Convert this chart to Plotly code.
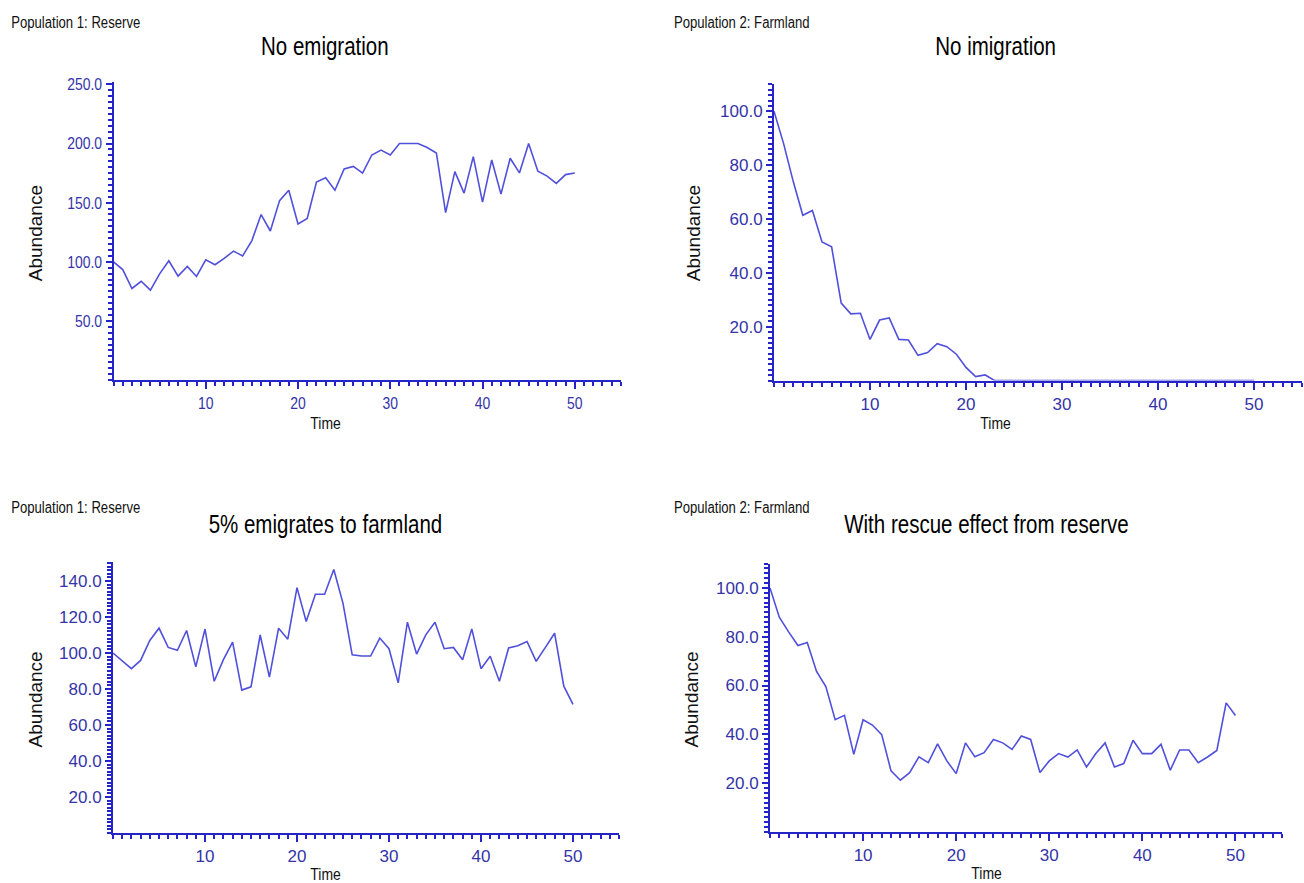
import plotly.graph_objects as go

# ---- data ----
time = list(range(51))

reserve_no_emigration = [100, 93.4, 77.4, 83.5, 76, 89.8, 100.8, 87.9, 96.1, 87.6,
                         101.7, 97.5, 102.8, 109, 105, 117.9, 139.9, 126, 151.7, 160.5,
                         132, 136.6, 167.4, 171, 160.5, 178.4, 180.6, 175, 190.3, 194.4,
                         190.3, 200, 200, 200, 196.6, 192, 141.5, 176.2, 158, 188.9,
                         150.4, 186.1, 157.2, 187.5, 175.1, 200, 176.5, 172.4, 166.3, 173.7,
                         175.1]

farmland_no_immigration = [100, 88, 74, 61.4, 63.2, 51.5, 49.7, 28.8, 24.8, 25,
                           15.3, 22.5, 23.3, 15.3, 15.1, 9.4, 10.4, 13.7, 12.6, 9.8,
                           4.9, 1.5, 2.1, 0, 0, 0, 0, 0, 0, 0,
                           0, 0, 0, 0, 0, 0, 0, 0, 0, 0,
                           0, 0, 0, 0, 0, 0, 0, 0, 0, 0,
                           0]

reserve_emigration = [100, 95.7, 91.3, 95.9, 107, 113.8, 103.1, 101.5, 112.5, 92.3,
                      113.3, 84.3, 96.3, 106, 79.4, 81.2, 110, 86.6, 113.8, 107.7,
                      136.3, 117.5, 132.6, 132.6, 146.4, 127.6, 99, 98.3, 98.3, 108.3,
                      102.4, 83.4, 117.1, 99.4, 110.1, 117.1, 102.4, 103.1, 96.3, 113.4,
                      91.3, 98.2, 84.3, 102.8, 104, 106.4, 95.4, 103.1, 111, 81.6,
                      71.5]

farmland_rescue = [100, 88, 82, 76.4, 77.6, 65.8, 59.6, 46, 47.8, 31.8,
                   46, 43.8, 39.9, 25, 21.2, 24.3, 30.8, 28.4, 36.1, 29.1,
                   23.9, 36.5, 30.8, 32.5, 37.9, 36.5, 33.8, 39.3, 37.9, 24.3,
                   29.1, 32.1, 30.7, 33.6, 26.6, 32.1, 36.5, 26.6, 28, 37.6,
                   32.1, 32.1, 35.9, 25.3, 33.6, 33.6, 28.4, 30.7, 33.4, 52.9,
                   47.7]

panel_titles = ["No emigration", "No imigration",
                "5% emigrates to farmland", "With rescue effect from reserve"]
population_labels = ["Population 1: Reserve", "Population 2: Farmland",
                     "Population 1: Reserve", "Population 2: Farmland"]
x_ticks = [10, 20, 30, 40, 50]
y_ticks_reserve_top = [50, 100, 150, 200, 250]
y_ticks_farm = [20, 40, 60, 80, 100]
y_ticks_reserve_bottom = [20, 40, 60, 80, 100, 120, 140]

# ---- layout geometry (pixels) ----
W, H = 1304, 883
FONT = "Liberation Sans, Arial, sans-serif"
AXIS_COL = "#2424c8"
TICK_COL = "#3434a8"
LINE_COL = "#5050dc"


def px_x(p):
    return p / W


def px_y(p):
    return 1 - p / H


panels = [
    dict(x0=113.5, x1=620.9, yb=376.0, yt=75.6, ymax=252, yt_vals=y_ticks_reserve_top, yminor=5,
         data=reserve_no_emigration, pop_xy=(76, 16), title_xy=(325, 39), time_xy=(325, 420), ab_xy=(35, 228)),
    dict(x0=774.0, x1=1302.0, yb=376.6, yt=78.0, ymax=110, yt_vals=y_ticks_farm, yminor=2,
         data=farmland_no_immigration, pop_xy=(741, 16), title_xy=(995, 39), time_xy=(995, 420), ab_xy=(693, 228)),
    dict(x0=113.0, x1=619.0, yb=832.7, yt=559.5, ymax=150.5, yt_vals=y_ticks_reserve_bottom, yminor=2,
         data=reserve_emigration, pop_xy=(76, 504), title_xy=(325, 521), time_xy=(325, 874), ab_xy=(35, 698)),
    dict(x0=770.0, x1=1282.0, yb=831.5, yt=561.0, ymax=110, yt_vals=y_ticks_farm, yminor=2,
         data=farmland_rescue, pop_xy=(741, 504), title_xy=(986, 521), time_xy=(986, 873), ab_xy=(691, 698)),
]

fig = go.Figure()
annotations = []
layout_axes = {}

for i, p in enumerate(panels):
    n = "" if i == 0 else str(i + 1)
    fig.add_trace(go.Scatter(x=time, y=p["data"], mode="lines",
                             line=dict(color=LINE_COL, width=1.6),
                             xaxis="x" + n, yaxis="y" + n, showlegend=False,
                             hoverinfo="x+y"))
    layout_axes["xaxis" + n] = dict(
        domain=[px_x(p["x0"]), px_x(p["x1"])], range=[0, 55], anchor="y" + n,
        tickmode="array", tickvals=x_ticks, tickformat="d",
        ticks="outside", ticklen=7, tickwidth=2, tickcolor=AXIS_COL,
        showline=True, linecolor=AXIS_COL, linewidth=2, showgrid=False, zeroline=False,
        tickfont=dict(family=FONT, size=17, color=TICK_COL),
        minor=dict(tickmode="linear", tick0=0, dtick=1, ticks="outside", ticklen=4,
                   tickwidth=2, tickcolor=AXIS_COL, showgrid=False),
        fixedrange=True,
    )
    layout_axes["yaxis" + n] = dict(
        domain=[px_y(p["yb"]), px_y(p["yt"])], range=[0, p["ymax"]], anchor="x" + n,
        tickmode="array", tickvals=p["yt_vals"], tickformat=".1f",
        ticks="outside", ticklen=6, tickwidth=2, tickcolor=AXIS_COL,
        showline=True, linecolor=AXIS_COL, linewidth=2, showgrid=False, zeroline=False,
        tickfont=dict(family=FONT, size=17, color=TICK_COL),
        minor=dict(tickmode="linear", tick0=0, dtick=p["yminor"], ticks="outside", ticklen=4,
                   tickwidth=2, tickcolor=AXIS_COL, showgrid=False),
        fixedrange=True,
    )
    annotations.append(dict(text=population_labels[i], x=px_x(p["pop_xy"][0]), y=px_y(p["pop_xy"][1]),
                            xref="paper", yref="paper", xanchor="center", yanchor="middle", showarrow=False,
                            font=dict(family=FONT, size=16, color="#111111")))
    annotations.append(dict(text=panel_titles[i], x=px_x(p["title_xy"][0]), y=px_y(p["title_xy"][1]),
                            xref="paper", yref="paper", xanchor="center", yanchor="middle", showarrow=False,
                            font=dict(family=FONT, size=25, color="#000000")))
    annotations.append(dict(text="Time", x=px_x(p["time_xy"][0]), y=px_y(p["time_xy"][1]),
                            xref="paper", yref="paper", xanchor="center", yanchor="middle", showarrow=False,
                            font=dict(family=FONT, size=17, color="#111111")))
    annotations.append(dict(text="Abundance", x=px_x(p["ab_xy"][0]), y=px_y(p["ab_xy"][1]),
                            xref="paper", yref="paper", xanchor="center", yanchor="middle", showarrow=False,
                            textangle=-90,
                            font=dict(family=FONT, size=19, color="#111111")))

fig.update_layout(
    width=W, height=H, autosize=False,
    margin=dict(l=0, r=0, t=0, b=0),
    paper_bgcolor="white", plot_bgcolor="white",
    annotations=annotations,
    **layout_axes,
)

# remove the default page margin and condense the narrow-font texts (as in the original)
post = """
document.body.style.margin = '0';
document.body.style.overflow = 'hidden';
var gd = document.getElementById('{plot_id}');
gd.querySelectorAll('.xtick text, .ytick text, .annotation-text').forEach(function(t) {
  if (t.textContent === 'Abundance') { return; }
  var L = t.getComputedTextLength();
  if (L > 0) {
    t.setAttribute('textLength', (L * 0.82).toFixed(2));
    t.setAttribute('lengthAdjust', 'spacingAndGlyphs');
  }
});
"""

fig.write_html("out.html", post_script=post, config={"displayModeBar": False})
